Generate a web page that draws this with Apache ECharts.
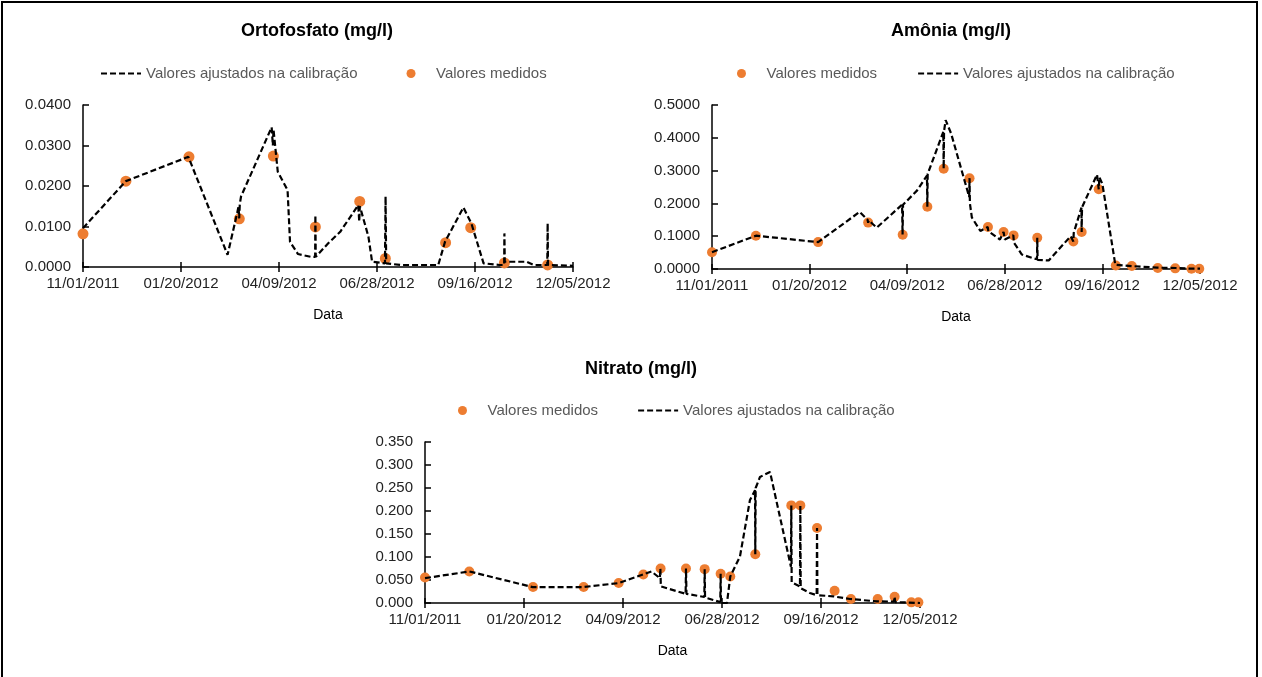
<!DOCTYPE html>
<html>
<head>
<meta charset="utf-8">
<script src="https://cdn.jsdelivr.net/npm/echarts@6/dist/echarts.min.js"></script>
<style>
  html, body { margin: 0; padding: 0; background: #fff; }
  #main { width: 1262px; height: 677px; }
</style>
</head>
<body>
<div id="main"></div>
<script>
// dias contados a partir de 11/01/2011
var inicio = Date.UTC(2011, 10, 1);
var ticksX = [0, 80, 160, 240, 320, 400];

// Ortofosfato
var ortoMedDias = [0, 35, 86.5, 127.6, 155.4, 189.7, 225.9, 246.8, 296, 316.5, 344, 379.3];
var ortoMedVal = [0.0082, 0.0212, 0.0272, 0.0119, 0.0274, 0.0099, 0.0162, 0.0021, 0.0060, 0.0097, 0.0010, 0.0005];
var ortoAjDias = [0, 35, 86, 118, 126, 127, 127.5, 128, 129, 154, 155, 155.5, 159, 167, 169, 175.5, 186, 189.5, 189.7, 190, 200, 210, 224.7, 225.5, 226, 233, 236, 246.5, 247, 247.5, 259, 290, 295.5, 310.5, 317, 327, 340, 343.8, 344, 344.3, 362, 368, 379, 379.3, 379.6, 400];
var ortoAjVal = [0.0096, 0.0212, 0.0272, 0.0030, 0.0135, 0.0150, 0.0120, 0.0155, 0.0174, 0.0345, 0.0300, 0.0340, 0.0235, 0.0190, 0.0062, 0.0032, 0.0025, 0.0025, 0.0128, 0.0025, 0.0058, 0.0087, 0.0153, 0.0112, 0.0150, 0.0075, 0.0013, 0.0009, 0.0174, 0.0009, 0.0005, 0.0005, 0.0062, 0.0147, 0.0108, 0.0009, 0.0005, 0.0005, 0.0083, 0.0013, 0.0013, 0.0005, 0.0005, 0.0108, 0.0005, 0.0003];

// Amônia
var amoMedDias = [0, 36, 87, 128, 156.3, 176.5, 189.9, 211.1, 226.2, 239, 247.2, 266.6, 296.2, 303, 317, 331, 344.1, 365.4, 379.7, 393, 399.4];
var amoMedVal = [0.0513, 0.1015, 0.082, 0.1414, 0.1045, 0.1896, 0.3055, 0.2767, 0.128, 0.1128, 0.1025, 0.0953, 0.0842, 0.1128, 0.2429, 0.0104, 0.0092, 0.003, 0.002, 0.001, 0.001];
var amoAjDias = [0, 36, 87, 121, 127.5, 128, 128.5, 135, 155.8, 156.2, 156.6, 168, 176.2, 176.5, 176.8, 189.6, 189.9, 190.2, 191.5, 196, 210.8, 211.1, 211.4, 213, 220, 226, 226.5, 236, 239, 240, 247, 247.5, 254, 264, 266.4, 266.6, 266.9, 276, 294, 296.2, 296.5, 302.8, 303, 303.3, 315.6, 317, 317.5, 320, 330.6, 344, 365, 380, 393, 400];
var amoAjVal = [0.0513, 0.1015, 0.082, 0.174, 0.150, 0.141, 0.148, 0.126, 0.196, 0.105, 0.196, 0.239, 0.285, 0.19, 0.29, 0.418, 0.306, 0.42, 0.454, 0.413, 0.22, 0.277, 0.2, 0.157, 0.116, 0.128, 0.115, 0.090, 0.113, 0.09, 0.103, 0.08, 0.044, 0.032, 0.03, 0.095, 0.028, 0.026, 0.10, 0.084, 0.11, 0.187, 0.113, 0.188, 0.288, 0.243, 0.28, 0.259, 0.013, 0.009, 0.004, 0.003, 0.001, 0.001];

// Nitrato
var nitMedDias = [0, 35.8, 87.3, 128.2, 156.5, 176.4, 190.4, 210.9, 226, 238.9, 246.7, 266.9, 296, 303.3, 316.8, 331, 344.2, 365.8, 379.5, 393, 398.7];
var nitMedVal = [0.0556, 0.0686, 0.0346, 0.0346, 0.0433, 0.0621, 0.0751, 0.0751, 0.0736, 0.0635, 0.0577, 0.1061, 0.2122, 0.2122, 0.1631, 0.0267, 0.0087, 0.0087, 0.0137, 0.0014, 0.0014];
var nitAjDias = [0, 35.8, 87, 128, 156.5, 176.4, 183, 189.8, 190.2, 190.6, 210.6, 210.9, 211.3, 225.7, 226, 226.3, 238.6, 238.9, 239.2, 244, 246.7, 254.5, 262.6, 266.7, 266.9, 267.2, 270.7, 278.8, 295.7, 296, 296.3, 303, 303.3, 303.6, 311, 316.5, 316.8, 317.1, 330, 343.4, 365, 379, 379.5, 380, 400];
var nitAjVal = [0.054, 0.0686, 0.0346, 0.0346, 0.0433, 0.0621, 0.0686, 0.054, 0.0751, 0.036, 0.020, 0.0751, 0.020, 0.013, 0.0736, 0.012, 0.002, 0.0635, 0.0, 0.0, 0.0577, 0.101, 0.224, 0.245, 0.106, 0.25, 0.274, 0.285, 0.079, 0.212, 0.045, 0.036, 0.212, 0.032, 0.0217, 0.017, 0.163, 0.017, 0.0144, 0.0087, 0.0036, 0.003, 0.0137, 0.002, 0.0];

var nomeAj = 'Valores ajustados na calibração';
var nomeMed = 'Valores medidos';
var laranja = '#ED7D31';
var fonte = '"Liberation Sans", Arial, sans-serif';

function pares(dias, vals) {
  return dias.map(function (d, i) { return [d, vals[i]]; });
}
function dataTxt(d) {
  var t = new Date(inicio + Math.round(d) * 86400000);
  var mm = ('0' + (t.getUTCMonth() + 1)).slice(-2);
  var dd = ('0' + t.getUTCDate()).slice(-2);
  return mm + '/' + dd + '/' + t.getUTCFullYear();
}

var myChart = echarts.init(document.getElementById('main'));

var grids = [
  { left: 83, top: 105, width: 490, height: 162 },
  { left: 712, top: 105, width: 488, height: 164 },
  { left: 425, top: 442, width: 495, height: 161 }
];
var yCfg = [
  { max: 0.04, interval: 0.01, dec: 4 },
  { max: 0.5, interval: 0.1, dec: 4 },
  { max: 0.35, interval: 0.05, dec: 3 }
];

var xAxis = [], yAxis = [];
grids.forEach(function (g, i) {
  xAxis.push({
    type: 'value', gridIndex: i, min: ticksX[0], max: ticksX[ticksX.length - 1], interval: 80,
    position: 'bottom',
    name: 'Data', nameLocation: 'middle', nameGap: 41,
    nameTextStyle: { fontSize: 14, color: '#000', fontFamily: fonte },
    axisLine: { show: true, onZero: false, lineStyle: { color: '#000', width: 1.5 } },
    axisTick: { show: true, length: 5, lineStyle: { color: '#000', width: 1.5 } },
    axisLabel: { fontSize: 15, color: '#222', fontFamily: fonte, margin: 9, formatter: dataTxt },
    splitLine: { show: false }
  });
  // marcas cruzadas: metade interna
  xAxis.push({
    type: 'value', gridIndex: i, min: 0, max: 400, interval: 80, position: 'bottom', offset: 0,
    axisLine: { show: false, onZero: false },
    axisTick: { show: true, inside: true, length: 5, lineStyle: { color: '#000', width: 1.5 } },
    axisLabel: { show: false }, splitLine: { show: false }
  });
  yAxis.push({
    type: 'value', gridIndex: i, min: 0, max: yCfg[i].max, interval: yCfg[i].interval,
    axisLine: { show: true, lineStyle: { color: '#000', width: 1.5 } },
    axisTick: { show: true, inside: true, length: 6, lineStyle: { color: '#000', width: 1.5 } },
    axisLabel: {
      fontSize: 15, color: '#222', fontFamily: fonte, margin: 12,
      formatter: (function (dec) { return function (v) { return v.toFixed(dec); }; })(yCfg[i].dec)
    },
    splitLine: { show: false }
  });
});

function linha(nome, dados, g) {
  return {
    name: nome, type: 'line', xAxisIndex: g * 2, yAxisIndex: g, data: dados,
    showSymbol: false, symbol: 'none', animation: false,
    lineStyle: { color: '#000', width: 2.2, type: [6, 3] }, itemStyle: { color: '#000' }
  };
}
function pontos(nome, dados, g, tam) {
  return {
    name: nome, type: 'scatter', xAxisIndex: g * 2, yAxisIndex: g, data: dados,
    symbolSize: tam, animation: false, itemStyle: { color: laranja, opacity: 1 }
  };
}

var series = [
  linha(nomeAj, pares(ortoAjDias, ortoAjVal), 0),
  pontos(nomeMed, pares(ortoMedDias, ortoMedVal), 0, 11),
  pontos(nomeMed, pares(amoMedDias, amoMedVal), 1, 10),
  linha(nomeAj, pares(amoAjDias, amoAjVal), 1),
  pontos(nomeMed, pares(nitMedDias, nitMedVal), 2, 10),
  linha(nomeAj, pares(nitAjDias, nitAjVal), 2)
];

function legenda(left, top, gap, ordem) {
  return {
    left: left, top: top, itemWidth: 40, itemHeight: 9, itemGap: gap,
    data: ordem.map(function (n) {
      return n === nomeAj ? { name: n, itemStyle: { opacity: 0 } } : { name: n };
    }),
    textStyle: { fontSize: 15, color: '#595959', fontFamily: fonte },
    selectedMode: false
  };
}

var option = {
  animation: false,
  title: [
    { text: 'Ortofosfato (mg/l)', left: 236, top: 17 },
    { text: 'Amônia (mg/l)', left: 886, top: 17 },
    { text: 'Nitrato (mg/l)', left: 580, top: 355 }
  ].map(function (t) {
    t.textStyle = { fontSize: 18, fontWeight: 'bold', color: '#000', fontFamily: fonte };
    return t;
  }),
  legend: [
    legenda(95, 61, 49, [nomeAj, nomeMed]),
    legenda(732, 61, 40, [nomeMed, nomeAj]),
    legenda(453, 398, 39, [nomeMed, nomeAj])
  ],
  grid: grids,
  xAxis: xAxis,
  yAxis: yAxis,
  series: series,
  graphic: [{
    type: 'rect', silent: true, z: -1,
    shape: { x: 2, y: 2, width: 1255, height: 700 },
    style: { fill: 'none', stroke: '#000', lineWidth: 2 }
  }]
};

myChart.setOption(option);
window.onresize = function () { myChart.resize(); };
</script>
</body>
</html>
